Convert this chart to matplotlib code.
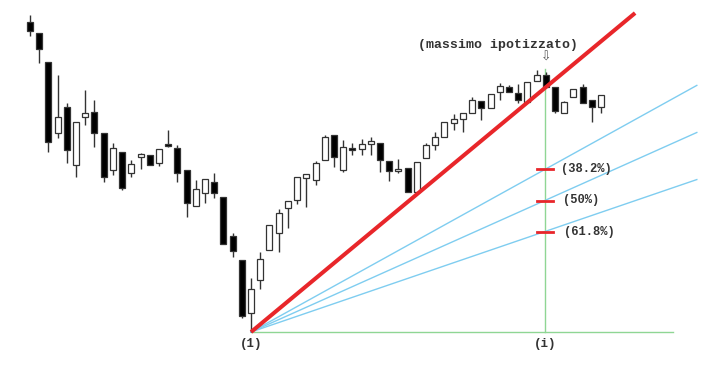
import matplotlib
matplotlib.use("Agg")
import matplotlib.pyplot as plt

# candles (price units, one entry per bar)
opens = [347, 336, 307, 236, 262, 204, 252, 257, 236, 199, 217, 196, 212, 214, 206, 225,
         221, 199, 163, 176, 187, 172, 133, 109, 56, 89, 119, 136, 161, 169, 191, 189,
         209, 234, 199, 221, 220, 225, 226, 208, 198, 201, 177, 211, 224, 232, 246, 250,
         256, 268, 261, 277, 282, 276, 267, 288, 294, 282, 256, 272, 282, 269, 262]
highs = [354, 336, 307, 294, 266, 247, 279, 269, 236, 226, 217, 209, 216, 214, 220, 239,
         224, 199, 189, 190, 196, 172, 136, 109, 91, 117, 144, 160, 168, 192, 195, 208,
         234, 234, 229, 226, 230, 232, 226, 208, 210, 201, 207, 226, 237, 247, 255, 256,
         272, 268, 275, 286, 284, 285, 287, 299, 297, 282, 268, 280, 285, 269, 274]
lows = [333, 306, 217, 231, 206, 192, 244, 222, 187, 194, 179, 192, 200, 204, 203, 222,
        187, 152, 163, 166, 171, 125, 112, 51, 37, 80, 119, 117, 141, 165, 162, 184,
        209, 202, 197, 214, 214, 214, 197, 188, 196, 177, 175, 211, 219, 232, 239, 237,
        256, 249, 261, 269, 277, 266, 267, 288, 282, 256, 256, 272, 266, 247, 256]
closes = [338, 320, 227, 252, 219, 247, 256, 236, 192, 221, 181, 205, 215, 204, 220, 223,
          196, 166, 180, 190, 176, 125, 118, 53, 80, 110, 144, 156, 168, 192, 195, 206,
          232, 212, 222, 219, 225, 228, 209, 198, 200, 177, 207, 224, 232, 247, 250, 256,
          269, 261, 275, 283, 277, 269, 287, 294, 282, 258, 267, 280, 266, 262, 274]

# fan construction
pivot_index = 24
pivot_price = 37
top_index = 56
top_price = 300
red_price_at_top = 281
red_end_index = 65.7
fan_levels = [0.382, 0.5, 0.618]
fan_labels = ["(38.2%)", "(50%)", "(61.8%)"]

fig = plt.figure(figsize=(7.11, 3.69), dpi=100)
ax = fig.add_axes([0, 0, 1, 1])

x_positions = list(range(len(opens)))

# wicks
ax.vlines(x_positions, lows, highs, color="#333333", linewidth=1.0, zorder=2)

# bodies
for i in x_positions:
    o = opens[i]
    c = closes[i]
    bottom = min(o, c)
    height = abs(c - o)
    if height < 1.5:
        height = 1.5
    if c < o:
        face = "black"
    else:
        face = "white"
    ax.bar(i, height, 0.65, bottom=bottom, color=face, edgecolor="#333333",
           linewidth=0.9, zorder=3)

# green base lines
vert_x = top_index - 0.1
ax.plot([pivot_index, 69.8], [pivot_price, pivot_price], color="#8fd694", linewidth=1.0, zorder=1)
ax.plot([vert_x, vert_x], [pivot_price, top_price], color="#8fd694", linewidth=1.0, zorder=1)

# fan lines
end_index = 72.4
for level in fan_levels:
    level_price = top_price - level * (top_price - pivot_price)
    slope = (level_price - pivot_price) / (vert_x - pivot_index)
    ax.plot([pivot_index, end_index], [pivot_price, pivot_price + slope * (end_index - pivot_index)],
            color="#7fcdf0", linewidth=1.0, zorder=1)

# main red trend line
red_slope = (red_price_at_top - pivot_price) / (vert_x - pivot_index)
ax.plot([pivot_index, red_end_index],
        [pivot_price, pivot_price + red_slope * (red_end_index - pivot_index)],
        color="#e8262a", linewidth=2.9, zorder=4, solid_capstyle="butt")

# red ticks and labels on the vertical line
for level, label, shift in zip(fan_levels, fan_labels, [0, 0.2, 0.35]):
    level_price = top_price - level * (top_price - pivot_price)
    ax.plot([top_index - 0.9, top_index + 0.75], [level_price, level_price],
            color="#e8262a", linewidth=2.0, zorder=5)
    ax.text(top_index + 1.65 + shift, level_price, label, family="Liberation Mono",
            fontweight="bold", fontsize=8.7, color="#333333", ha="left", va="center")

ax.text(50.8, 324, "(massimo ipotizzato)", family="Liberation Mono", fontweight="bold",
        fontsize=9.5, color="#333333", ha="center", va="center")
ax.text(top_index, 312, "\u21e9", family="DejaVu Sans", fontsize=9, color="#555555",
        ha="center", va="center")

ax.text(pivot_index, 25, "(1)", family="Liberation Mono", fontweight="bold",
        fontsize=9, color="#333333", ha="center", va="center")
ax.text(vert_x, 25, "(i)", family="Liberation Mono", fontweight="bold",
        fontsize=9, color="#333333", ha="center", va="center")

ax.set_xlim(-3.257, 73.94)
ax.set_ylim(0, 369)
ax.axis("off")

fig.savefig("out.png", dpi=100, facecolor="white")
